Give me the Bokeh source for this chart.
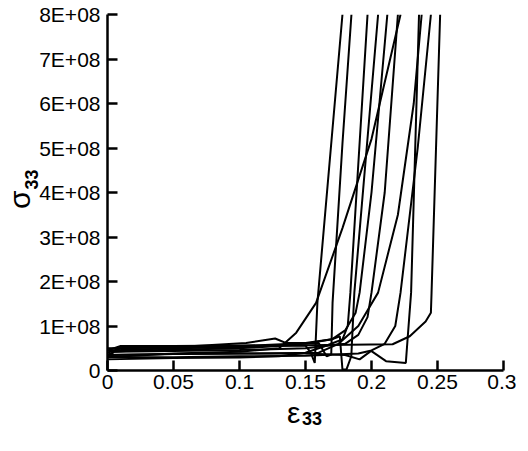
from bokeh.plotting import figure
from bokeh.models import FixedTicker, LinearAxis
from bokeh.embed import file_html
from bokeh.resources import INLINE

# strain tick values / labels
x_ticks = [0, 0.05, 0.1, 0.15, 0.2, 0.25, 0.3]
x_tick_labels = ["0", "0.05", "0.1", "0.15", "0.2", "0.25", "0.3"]
y_ticks = [0, 1e8, 2e8, 3e8, 4e8, 5e8, 6e8, 7e8, 8e8]
y_tick_labels = ["0", "1E+08", "2E+08", "3E+08", "4E+08", "5E+08", "6E+08", "7E+08", "8E+08"]
# axis titles: symbol and bold subscript, anchored at data positions along each axis
x_symbol, x_sub = "ε", "33"
y_symbol, y_sub = "σ", "33"
x_symbol_at, x_sub_at = 0.141, 0.155
y_symbol_at, y_sub_at = 3.84e8, 4.29e8

# stress-strain curves (strain, stress in 1E+08)
c1_x = [0, 0.005, 0.02, 0.06, 0.1, 0.13, 0.15, 0.154, 0.157, 0.159, 0.178]
c1_y = [0.35, 0.42, 0.45, 0.47, 0.5, 0.55, 0.56, 0.4, 0.17, 1.52, 8.0]
c2_x = [0, 0.01, 0.05, 0.1, 0.14, 0.16, 0.166, 0.1695, 0.1705, 0.178, 0.1848]
c2_y = [0.40, 0.5, 0.52, 0.55, 0.6, 0.62, 0.32, 0.36, 1.52, 5.1, 8.0]
c3_x = [0, 0.05, 0.1, 0.13, 0.143, 0.158, 0.178, 0.2, 0.222]
c3_y = [0.30, 0.38, 0.42, 0.5, 0.85, 1.52, 3.2, 5.2, 8.0]
c4_x = [0, 0.05, 0.1, 0.15, 0.17, 0.176, 0.178, 0.181, 0.1847, 0.187, 0.205]
c4_y = [0.45, 0.5, 0.52, 0.6, 0.7, 0.77, 0.02, 0.02, 0.32, 1.75, 8.0]
c5_x = [0, 0.05, 0.1, 0.15, 0.18, 0.191, 0.1997, 0.211, 0.226, 0.2275, 0.230, 0.236]
c5_y = [0.35, 0.37, 0.38, 0.38, 0.35, 0.25, 0.44, 0.21, 0.17, 0.77, 1.75, 8.0]
c6_x = [0, 0.01, 0.05, 0.1, 0.15, 0.216, 0.229, 0.241, 0.245, 0.2455, 0.252]
c6_y = [0.45, 0.55, 0.55, 0.56, 0.57, 0.59, 0.77, 1.1, 1.3, 1.75, 8.0]
c7_x = [0, 0.05, 0.1, 0.15, 0.19, 0.2, 0.21, 0.218, 0.222, 0.235, 0.245]
c7_y = [0.30, 0.3, 0.32, 0.33, 0.38, 0.45, 0.6, 1.0, 1.75, 5.0, 8.0]
c8_x = [0, 0.05, 0.105, 0.127, 0.135, 0.15, 0.17, 0.18, 0.188, 0.191, 0.2, 0.212]
c8_y = [0.50, 0.52, 0.62, 0.72, 0.62, 0.62, 0.7, 0.9, 1.3, 1.75, 4.0, 8.0]
c9_x = [0, 0.05, 0.1, 0.16, 0.175, 0.19, 0.205, 0.22, 0.232, 0.238]
c9_y = [0.35, 0.37, 0.38, 0.4, 0.6, 1.0, 1.75, 3.5, 6.0, 8.0]
c10_x = [0, 0.05, 0.1, 0.13, 0.15, 0.165, 0.178, 0.182, 0.184, 0.197]
c10_y = [0.25, 0.28, 0.29, 0.32, 0.4, 0.55, 0.7, 1.0, 1.75, 8.0]
c11_x = [0, 0.005, 0.05, 0.1, 0.15, 0.18, 0.19, 0.197, 0.2, 0.21, 0.22]
c11_y = [0.30, 0.42, 0.44, 0.46, 0.5, 0.6, 0.8, 1.2, 1.75, 4.0, 8.0]

curves = [(c1_x, c1_y), (c2_x, c2_y), (c3_x, c3_y), (c4_x, c4_y), (c5_x, c5_y),
          (c6_x, c6_y), (c7_x, c7_y), (c8_x, c8_y), (c9_x, c9_y), (c10_x, c10_y),
          (c11_x, c11_y)]

p = figure(width=516, height=435, output_backend="svg", toolbar_location=None,
           x_range=(0, 0.3), y_range=(0, 8e8),
           min_border_left=106, min_border_right=13, min_border_top=14, min_border_bottom=65)
p.outline_line_color = None
p.xgrid.visible = False
p.ygrid.visible = False
p.background_fill_color = "white"

for cx, cy in curves:
    p.line(cx, [v * 1e8 for v in cy], line_color="black", line_width=2)

FONT = "Liberation Sans"
for ax in (p.xaxis[0], p.yaxis[0]):
    ax.axis_line_width = 2.5
    ax.axis_line_color = "black"
    ax.major_tick_in = 10
    ax.major_tick_out = 0
    ax.major_tick_line_width = 2.5
    ax.minor_tick_line_color = None
    ax.major_label_text_font = FONT
    ax.major_label_text_font_size = "21px"
    ax.major_label_text_color = "black"

p.xaxis[0].ticker = FixedTicker(ticks=x_ticks)
p.xaxis[0].major_label_overrides = {t: s for t, s in zip(x_ticks, x_tick_labels)}
p.xaxis[0].major_label_standoff = 4
p.yaxis[0].ticker = FixedTicker(ticks=y_ticks)
p.yaxis[0].major_label_overrides = {t: s for t, s in zip(y_ticks, y_tick_labels)}
p.yaxis[0].major_label_standoff = 7


def title_axis(pos, text, size, style, standoff, orientation="horizontal"):
    return LinearAxis(ticker=FixedTicker(ticks=[pos]),
                      major_label_overrides={pos: text},
                      major_label_text_font=FONT, major_label_text_font_size=size,
                      major_label_text_font_style=style, major_label_text_color="black",
                      major_label_standoff=standoff, major_label_orientation=orientation,
                      axis_line_color=None, major_tick_line_color=None,
                      minor_tick_line_color=None, major_tick_in=0, major_tick_out=0,
                      minor_tick_in=0, minor_tick_out=0)


# x title: "ε" then bold subscript "33"
p.add_layout(title_axis(x_symbol_at, x_symbol, "30px", "normal", 4), "below")
p.add_layout(title_axis(x_sub_at, x_sub, "18px", "bold", -20), "below")
# y title: bold subscript "33" next to the tick labels, then "σ"
p.add_layout(title_axis(y_sub_at, y_sub, "18px", "bold", -2, "vertical"), "left")
p.add_layout(title_axis(y_symbol_at, y_symbol, "30px", "normal", -14, "vertical"), "left")

open("out.html", "w").write(file_html(p, INLINE))
